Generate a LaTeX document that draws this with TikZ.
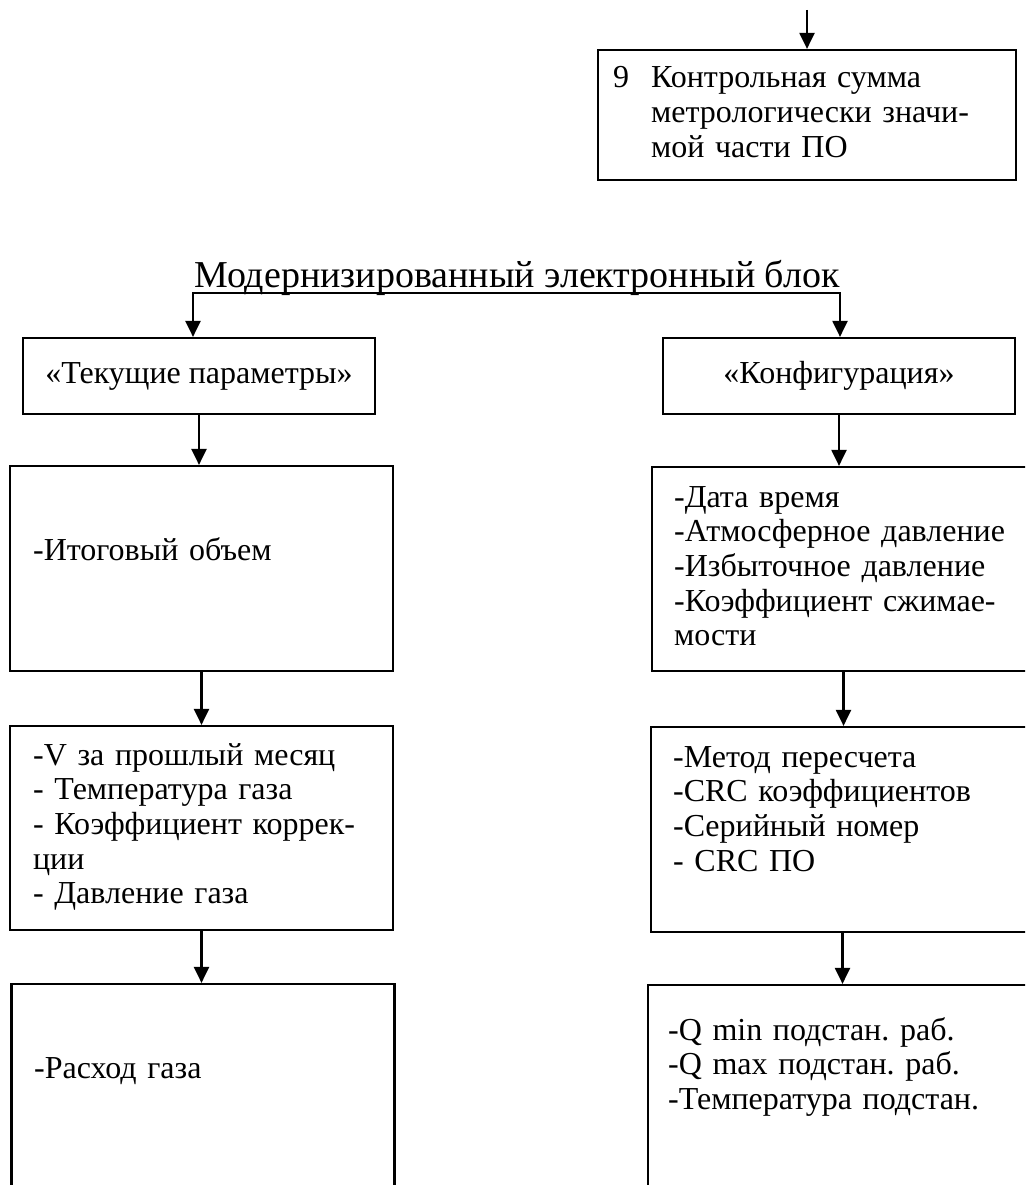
\documentclass[tikz,border=0pt]{standalone}
\usepackage{fontspec}
\setmainfont{Liberation Serif}
\usetikzlibrary{arrows.meta}
\frenchspacing

\begin{document}
\begin{tikzpicture}[x=1pt,y=-1pt,>={Triangle[length=16pt,width=15pt]},line width=2.2pt,
  font=\fontsize{32}{34.7}\selectfont,
  box/.style={draw,rectangle,inner sep=0pt,minimum width=383pt,minimum height=205pt},
  head/.style={draw,rectangle,inner sep=0pt,minimum width=352pt,minimum height=76pt},
  txt/.style={anchor=base west,align=left,text width=370pt,inner sep=0pt}]
  \useasboundingbox (0,0) rectangle (1025,1185);
  \clip (0,0) rectangle (1025,1185);

  % checksum block
  \coordinate (in) at (807,10);
  \node [draw,inner sep=0pt,minimum width=418pt,minimum height=130pt] (crc) at (807,115) {};
  \node [txt] (crctxt) at (650,88) {\llap{\makebox[38pt][l]{9}}Контрольная сумма\\
    метрологически значи-\\мой части ПО};

  \node [anchor=base,font=\fontsize{38}{42}\selectfont] (title) at (517,287) {Модернизированный электронный блок};
  \coordinate (bl) at (193,293);
  \coordinate (br) at (840,293);

  % left column
  \node [head] (tp) at (199,376) {«Текущие параметры»};
  \node [box] (itog) at (201.5,568.5) {};
  \node [box,minimum height=204pt] (vmes) at (201.5,828) {};
  \node [box,minimum height=300pt] (rash) at (203,1134) {};
  \node [txt] (itogtxt) at (32,560) {-Итоговый объем};
  \node [txt] (vmestxt) at (32,765) {-V за прошлый месяц\\- Температура газа\\
    - Коэффициент коррек-\\ции\\- Давление газа};
  \node [txt] (rashtxt) at (33,1078) {-Расход газа};

  % right column
  \node [head] (cfg) at (839,376) {«Конфигурация»};
  \node [box,minimum height=204pt] (dt) at (843.5,569) {};
  \node [box] (mpr) at (842.5,829.5) {};
  \node [box,minimum height=300pt] (qmin) at (839.5,1135) {};
  \node [txt] (dttxt) at (673,507) {-Дата время\\-Атмосферное давление\\
    -Избыточное давление\\-Коэффициент сжимае-\\мости};
  \node [txt] (mprtxt) at (672,767) {-Метод пересчета\\-CRC коэффициентов\\
    -Серийный номер\\- CRC ПО};
  \node [txt] (qmintxt) at (667,1040) {-Q min подстан. раб.\\-Q max подстан. раб.\\
    -Температура подстан.};

  \draw[->] (in) -- (crc.north);
  \draw[<->] (bl |- tp.north) -- (bl) -- (br) -- (br |- cfg.north);
  \draw[->] (tp.south) -- (tp.south |- itog.north);
  \draw[->] (itog.south) -- (itog.south |- vmes.north);
  \draw[->] (vmes.south) -- (vmes.south |- rash.north);
  \draw[->] (cfg.south) -- (cfg.south |- dt.north);
  \draw[->] (dt.south) -- (dt.south |- mpr.north);
  \draw[->] (mpr.south) -- (mpr.south |- qmin.north);
\end{tikzpicture}
\end{document}
